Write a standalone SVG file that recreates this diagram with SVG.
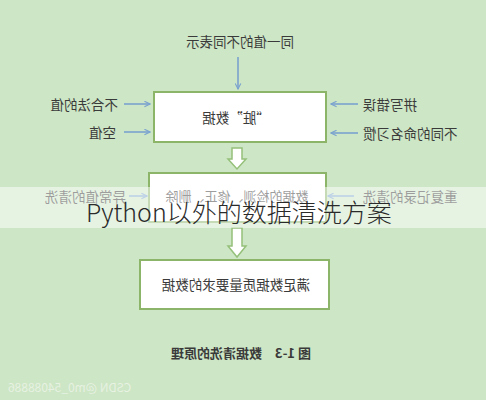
<svg xmlns="http://www.w3.org/2000/svg" width="486" height="400" viewBox="0 0 486 400">
<defs>
<style>
.t{font-family:"Noto Sans CJK SC","Noto Sans",sans-serif;font-size:13.5px;fill:#3a3a3a;dominant-baseline:central}
.box{fill:#ffffff;stroke:#8cb56a;stroke-width:2}
.ar{stroke:#7ba3cf;stroke-width:1.6;fill:none;marker-end:url(#ah)}
.blk{fill:#ffffff;stroke:#95c07a;stroke-width:1.5}
</style>
<marker id="ah" viewBox="0 0 10 10" refX="9" refY="5" markerWidth="7" markerHeight="7" orient="auto" markerUnits="userSpaceOnUse">
<path d="M1,1 L9,5 L1,9" fill="none" stroke="#7ba3cf" stroke-width="1.6"/>
</marker>
</defs>
<rect width="486" height="400" fill="#cde6c5"/>

<g id="connectors">
<line class="ar" x1="238" y1="57" x2="238" y2="89"/>
<line class="ar" x1="124" y1="104" x2="150" y2="104"/>
<line class="ar" x1="124" y1="132" x2="150" y2="132"/>
<line class="ar" x1="358" y1="104" x2="331" y2="104"/>
<line class="ar" x1="358" y1="133" x2="331" y2="133"/>
<line class="ar" x1="129" y1="196" x2="147" y2="196"/>
<line class="ar" x1="354" y1="196" x2="328" y2="196"/>
<path class="blk" d="M232,148 H242 V159 H246 L237,169 L228,159 H232 Z"/>
<path class="blk" d="M232,228 H242 V246 H246 L237,257 L228,246 H232 Z"/>
</g>

<g id="label-top"><text class="t" x="-240" y="41" text-anchor="middle" transform="scale(-1 1)">同一值的不同表示</text></g>
<g id="label-l1"><text class="t" x="-118" y="104" text-anchor="start" transform="scale(-1 1)">不合法的值</text></g>
<g id="label-l2"><text class="t" x="-116" y="132" text-anchor="start" transform="scale(-1 1)">空值</text></g>
<g id="label-r1"><text class="t" x="-363" y="104" text-anchor="end" transform="scale(-1 1)">拼写错误</text></g>
<g id="label-r2"><text class="t" x="-363" y="133" text-anchor="end" transform="scale(-1 1)">不同的命名习惯</text></g>
<g id="label-l3"><text class="t" x="-126" y="196" text-anchor="start" transform="scale(-1 1)">异常值的清洗</text></g>
<g id="label-r3"><text class="t" x="-363" y="196" text-anchor="end" transform="scale(-1 1)">重复记录的清洗</text></g>

<g id="box-dirty">
<rect class="box" x="154" y="92" width="172" height="50"/>
<text class="t" x="-236" y="117" text-anchor="middle" transform="scale(-1 1)">“脏”数据</text>
</g>
<g id="box-clean">
<rect class="box" x="149" y="173" width="177" height="49"/>
<text class="t" x="-237" y="195" text-anchor="middle" transform="scale(-1 1)" style="font-size:13px">数据的检测、修正、删除</text>
</g>
<g id="box-result">
<rect class="box" x="140" y="260" width="189" height="49"/>
<text class="t" x="-236" y="284" text-anchor="middle" transform="scale(-1 1)">满足数据质量要求的数据</text>
</g>

<g id="caption"><text class="t" x="-241" y="352" text-anchor="middle" transform="scale(-1 1)" style="font-weight:bold;font-size:13px">图 1-3　数据清洗的原理</text></g>
<g id="watermark"><text class="t" x="-8" y="386" text-anchor="end" transform="scale(-1 1)" style="font-size:12px;fill:#eef5ea;opacity:0.8">CSDN @m0_54088886</text></g>

<g id="overlay">
<rect x="0" y="187" width="486" height="41" fill="#ffffff" opacity="0.5"/>
<text x="86" y="222" style="font-family:'Noto Sans CJK SC','Noto Sans',sans-serif;font-size:25px;font-weight:300;fill:#2a2a2a">Python以外的数据清洗方案</text>
</g>
</svg>
